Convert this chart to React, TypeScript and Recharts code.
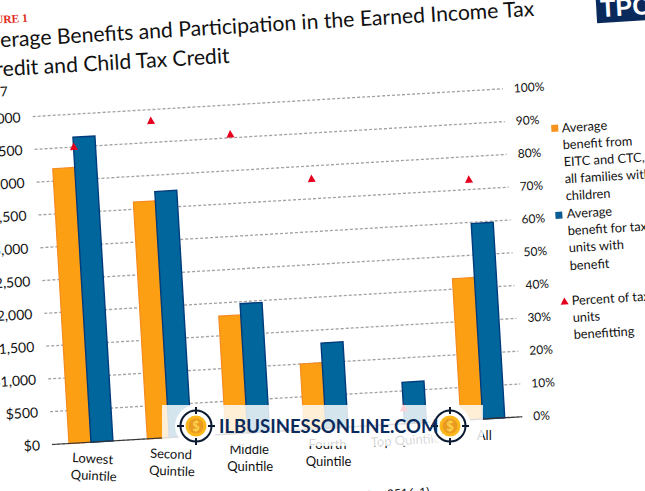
import React from 'react';
import { ComposedChart, Bar, Line, XAxis, YAxis, CartesianGrid } from 'recharts';

const categories = ['Lowest Quintile', 'Second Quintile', 'Middle Quintile', 'Fourth Quintile', 'Top Quintile', 'All'];
const tickLines = [['Lowest', 'Quintile'], ['Second', 'Quintile'], ['Middle', 'Quintile'], ['Fourth', 'Quintile'], ['Top Quintile'], ['All']];
const tickTilt = [6.4, 5.4, 3.4, 3.4, 0, 3.4];
const avgAllFamilies = [4190, 3610, 1800, 1000, null, 2160];
const avgWithBenefit = [4650, 3750, 1970, 1300, 630, 2980];
const pctBenefitting = [90, 96.5, 91, 76, 4.7, 73];
const dollarTicks = [0, 500, 1000, 1500, 2000, 2500, 3000, 3500, 4000, 4500, 5000];
const pctTicks = [0, 10, 20, 30, 40, 50, 60, 70, 80, 90, 100];
const legend1 = ['Average', 'benefit from', 'EITC and CTC,', 'all families with', 'children'];
const legend2 = ['Average', 'benefit for tax', 'units with', 'benefit'];
const legend3 = ['Percent of tax', 'units', 'benefitting'];

const data = categories.map((c, i) => ({
  category: c,
  idx: i,
  all: avgAllFamilies[i],
  withBenefit: avgWithBenefit[i],
  pct: pctBenefitting[i],
}));

const FONT = 'Lato, sans-serif';
const ORANGE = '#fd9f12';
const BLUE = '#00669c';
const RED = '#e6001e';
const NAVY = '#0b2a5c';

const Triangle = (p: any) => (
  <polygon key={p.index} points={`${p.cx},${p.cy - 4.5} ${p.cx + 4},${p.cy + 3} ${p.cx - 4},${p.cy + 3}`} fill={RED} />
);

const CatTick = (p: any) => {
  const idx = categories.indexOf(p.payload.value);
  const lines = tickLines[idx] || [];
  return (
    <g>
      {lines.map((t, i) => {
        const y = p.y + 13 + i * 17;
        return (
          <text key={t} x={p.x} y={y} textAnchor="middle" fontFamily={FONT} fontSize={13} fill="#111" transform={`rotate(${tickTilt[idx]} ${p.x} ${y})`}>{t}</text>
        );
      })}
    </g>
  );
};

const Abs = ({ x, y, end, size, color, weight, family, children, spacing }: any) => (
  <div style={{
    position: 'absolute', left: x, top: y, whiteSpace: 'nowrap', fontFamily: family || FONT, fontSize: size,
    lineHeight: 0, color: color || '#111', fontWeight: weight || 400, letterSpacing: spacing || 0,
    transform: end ? 'translateX(-100%)' : undefined,
  }}>{children}</div>
);

const Square = ({ x, y, c }: any) => (
  <div style={{ position: 'absolute', left: x - 3.5, top: y - 3.5, width: 7, height: 7, background: c }} />
);

const LegendLines = ({ x, y, lines }: any) => (
  <>
    {lines.map((t: string, i: number) => (
      <Abs key={t} x={x} y={y + i * 17.1} size={12.8}>{t}</Abs>
    ))}
  </>
);

const Logo = ({ cx, cy }: any) => (
  <svg style={{ position: 'absolute', left: cx - 24, top: cy - 24 }} width={48} height={48} viewBox="-24 -24 48 48">
    <circle r={21} fill="#fff" opacity={0.9} />
    <circle r={15.5} fill="#fff" stroke="#0a1a30" strokeWidth={2} />
    <path d="M-19 0H-12M12 0H19M0 -19V-12M0 12V19" stroke="#0a1a30" strokeWidth={2} />
    <circle r={10.5} fill="#fbb81c" />
    <circle r={7.5} fill="#ea9a20" />
    <text y={4.5} textAnchor="middle" fontFamily={FONT} fontWeight={700} fontSize={13} fill="#fcd34d">$</text>
  </svg>
);

export default function App() {
  return (
    <div style={{ position: 'fixed', left: 0, top: 0, width: 645, height: 491, overflow: 'hidden', background: '#fff' }}>
      <div style={{ position: 'absolute', left: 0, top: 0, width: 645, height: 491, transform: 'rotate(-3.38deg)', transformOrigin: '52px 444px' }}>
        <Abs x={53} y={16.5} end size={11.5} color="#df2a20" weight={700} family="'Liberation Serif', serif">FIGURE 1</Abs>
        <Abs x={559} y={36.5} end size={21.2}>Average Benefits and Participation in the Earned Income Tax</Abs>
        <Abs x={252} y={65.5} end size={21.2}>Credit and Child Tax Credit</Abs>
        <Abs x={28.6} y={89} end size={13.5}>2017</Abs>

        <div style={{ position: 'absolute', left: -38, top: 75.5 }}>
          <ComposedChart width={621} height={428.5} data={data} margin={{ top: 40, right: 0, bottom: 0, left: 0 }} barGap={0} barSize={22}>
            <CartesianGrid horizontal vertical={false} yAxisId="left" stroke="#a2a2a2" strokeWidth={1.3} strokeDasharray="3 2" horizontalValues={dollarTicks} />
            <XAxis dataKey="category" height={60} interval={0} tick={<CatTick />} tickLine={false} axisLine={{ stroke: '#333', strokeWidth: 1.2 }} xAxisId={0} />
            <YAxis yAxisId="left" width={90} domain={[0, 5000]} ticks={dollarTicks} tickFormatter={(v: number) => '$' + v.toLocaleString('en-US')} tickLine={false} tickSize={0} tickMargin={12} axisLine={false} tick={{ fontFamily: FONT, fontSize: 14, fill: '#111' }} interval={0} />
            <YAxis yAxisId="right" orientation="right" width={60} domain={[0, 100]} ticks={pctTicks} tickFormatter={(v: number) => v + '%'} tickLine={false} tickSize={0} tickMargin={11} axisLine={false} tick={{ fontFamily: FONT, fontSize: 12, fill: '#111' }} interval={0} />
            <Bar yAxisId="left" dataKey="all" fill={ORANGE} stroke="#f58a1f" strokeWidth={1.2} isAnimationActive={false} />
            <Bar yAxisId="left" dataKey="withBenefit" fill={BLUE} stroke="#003c7c" strokeWidth={1.4} isAnimationActive={false} />
            <Line yAxisId="right" dataKey="pct" stroke="none" dot={<Triangle />} activeDot={false} isAnimationActive={false} />
          </ComposedChart>
        </div>

        <Square x={572.3} y={158.6} c="#f7941d" />
        <LegendLines x={579.4} y={158} lines={legend1} />
        <Square x={571.8} y={245} c="#0a5c94" />
        <LegendLines x={579.3} y={244.2} lines={legend2} />
        <svg style={{ position: 'absolute', left: 567.4, top: 327.3 }} width={10} height={10}>
          <polygon points="5,1 9,8 1,8" fill={RED} />
        </svg>
        <LegendLines x={579.2} y={331} lines={legend3} />

        <Abs x={426} y={514} end size={12}>Source: Urban-Brookings Tax Policy Center Microsimulation Model (version 0516-1)</Abs>

        <div style={{ position: 'absolute', left: 621, top: -20, width: 90, height: 76, background: NAVY }} />
        <Abs x={625} y={41} size={25} color="#fff" weight={700} family="'Liberation Sans', sans-serif">TPC</Abs>
      </div>

      <div style={{ position: 'absolute', left: 162, top: 405, width: 321, height: 41, background: 'rgba(255,255,255,0.83)' }} />
      <Logo cx={196} cy={426} />
      <Logo cx={450} cy={426} />
      <Abs x={219} y={426} size={18.5} color={NAVY} weight={700}>ILBUSINESSONLINE.COM</Abs>
    </div>
  );
}
